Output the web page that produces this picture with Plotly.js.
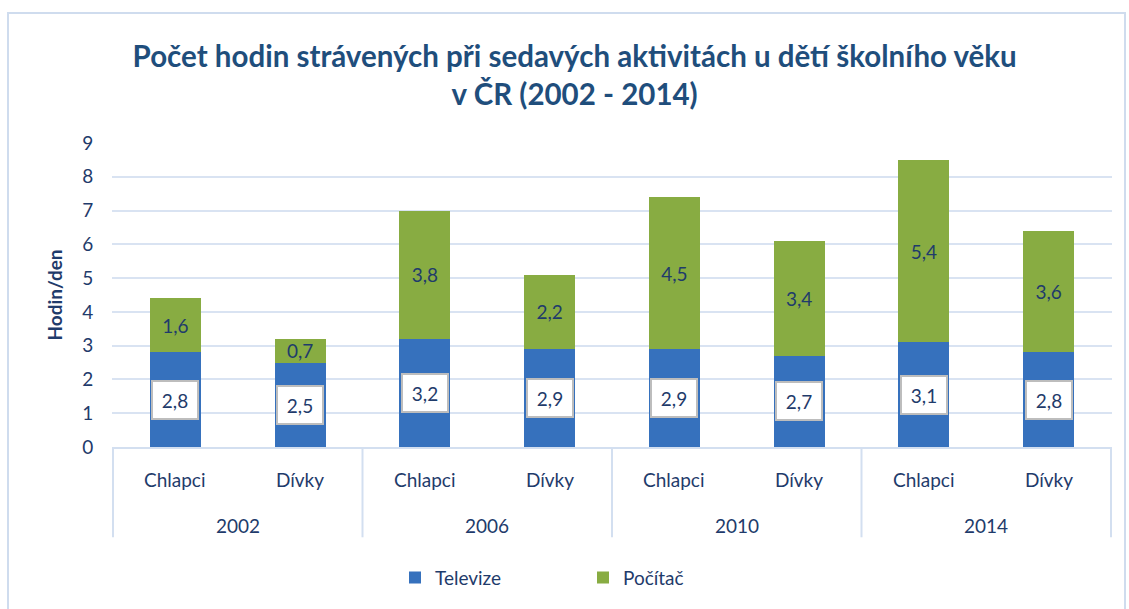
<!DOCTYPE html>
<html><head><meta charset="utf-8">
<script src="https://cdn.plot.ly/plotly-3.0.1.min.js"></script>
<style>body{margin:0;background:#fff}#c{width:1129px;height:609px}</style>
</head><body><div id="c"></div>
<script>
var years = ['2002','2002','2006','2006','2010','2010','2014','2014'];
var groups = ['Chlapci','Dívky','Chlapci','Dívky','Chlapci','Dívky','Chlapci','Dívky'];
var televize = [2.8, 2.5, 3.2, 2.9, 2.9, 2.7, 3.1, 2.8];
var pocitac = [1.6, 0.7, 3.8, 2.2, 4.5, 3.4, 5.4, 3.6];

var navy = '#1f3b6b';
var font = 'Lato, "Open Sans", sans-serif';
var lineCol = '#d3dff0';

var traces = [
  {type:'bar', name:'Televize', x:[years, groups], y:televize,
   marker:{color:'#3671bd'}, hoverinfo:'y'},
  {type:'bar', name:'Počítač', x:[years, groups], y:pocitac,
   marker:{color:'#88ac42'}, texttemplate:'%{y:.1f}', textposition:'inside',
   insidetextanchor:'middle', constraintext:'none',
   textfont:{size:19, color:navy, family:font}, hoverinfo:'y'}
];

var annotations = televize.map(function(v, i){
  return {x:i, y:v/2, xref:'x', yref:'y', text:v.toFixed(1).replace('.',','), showarrow:false,
    font:{size:19, color:navy, family:font}, bgcolor:'#ffffff', bordercolor:'#bdbdbd',
    borderwidth:2, borderpad:3, width:38, height:30};
});
// category labels (inner level)
groups.forEach(function(g, i){
  annotations.push({x:i, y:0, xref:'x', yref:'paper', yshift:-32, text:g, showarrow:false,
    font:{size:19, color:navy}, yanchor:'middle'});
});
// outer level (years) and group dividers
var shapes = [];
var seen = {};
years.forEach(function(y){
  if (seen[y]) return;
  seen[y] = true;
  var idx = []; years.forEach(function(yy, j){ if (yy === y) idx.push(j); });
  var c = (idx[0] + idx[idx.length-1]) / 2;
  annotations.push({x:c, y:0, xref:'x', yref:'paper', yshift:-78, text:y, showarrow:false,
    font:{size:19, color:navy}, yanchor:'middle'});
  shapes.push({type:'line', xref:'x', yref:'paper', x0:idx[0]-0.5, x1:idx[0]-0.5, y0:0, y1:-0.297,
    line:{color:lineCol, width:2}});
  if (idx[idx.length-1] === years.length-1)
    shapes.push({type:'line', xref:'x', yref:'paper', x0:idx[idx.length-1]+0.5, x1:idx[idx.length-1]+0.5, y0:0, y1:-0.297,
      line:{color:lineCol, width:2}});
});
shapes.push({type:'rect', xref:'paper', yref:'paper', x0:-0.104, x1:1.013, y0:-0.6, y1:1.428,
    line:{color:'#cfdcee', width:2}, fillcolor:'rgba(0,0,0,0)', layer:'below'});

var layout = {
  width:1129, height:609,
  margin:{l:112, r:17, t:143, b:160},
  separators:',.',
  barmode:'stack', bargap:0.59,
  paper_bgcolor:'#ffffff', plot_bgcolor:'#ffffff',
  font:{family:font, color:navy},
  title:{text:'<b>Počet hodin strávených při sedavých aktivitách u dětí školního věku<br>v ČR (2002 - 2014)</b>',
    x:0.509, xanchor:'center', y:0.89, yanchor:'middle', yref:'container',
    font:{size:29.5, color:'#1f4e7c', family:font}},
  xaxis:{type:'multicategory', showticklabels:false, showgrid:false,
    showline:true, linecolor:lineCol, linewidth:2, ticks:'', showdividers:false},
  yaxis:{range:[0,9], dtick:1, tickfont:{size:19, color:navy},
    gridcolor:'#d9e3f2', gridwidth:2, zeroline:false, ticks:'outside', ticklen:14, tickcolor:'rgba(0,0,0,0)',
    title:{text:'<b>Hodin/den</b>', font:{size:19, color:navy}, standoff:14}},
  legend:{orientation:'h', x:0.283, xanchor:'left', y:-0.43, yanchor:'middle',
    font:{size:19, color:navy}, traceorder:'normal', entrywidth:143, itemwidth:30},
  annotations:annotations,
  shapes:shapes,
  showlegend:true
};
Plotly.newPlot('c', traces, layout, {displayModeBar:false, staticPlot:true});
</script></body></html>
